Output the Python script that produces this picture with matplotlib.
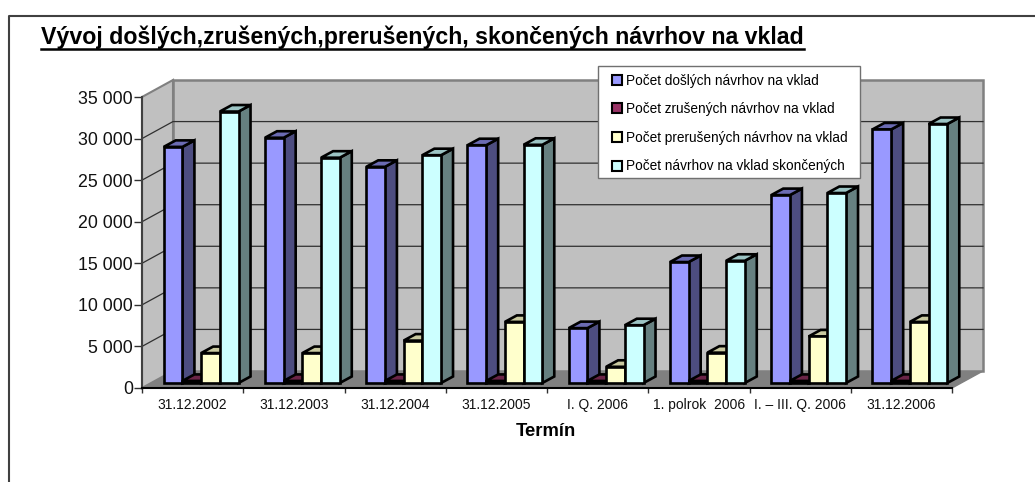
"""
Vyvoj navrhov na vklad - oblique 3D bar chart
"""

import matplotlib
matplotlib.use('Agg')
import matplotlib.pyplot as plt
from matplotlib.lines import Line2D
from matplotlib.patches import Patch, Polygon, Rectangle

plt.rcParams['font.family'] = ['Liberation Sans', 'DejaVu Sans']

categories = ['31.12.2002', '31.12.2003', '31.12.2004', '31.12.2005',
              'I. Q. 2006', '1. polrok  2006', 'I. – III. Q. 2006', '31.12.2006']
dosle = [28400, 29500, 26000, 28600, 6600, 14550, 22600, 30500]
zrusene = [250, 250, 250, 250, 250, 250, 250, 250]
prerusene = [3600, 3600, 5100, 7350, 1950, 3650, 5600, 7350]
skoncene = [32650, 27100, 27400, 28650, 6950, 14700, 22850, 31150]
series_names = ['Počet došlých návrhov na vklad', 'Počet zrušených návrhov na vklad',
                'Počet prerušených návrhov na vklad', 'Počet návrhov na vklad skončených']
yticks = [0, 5000, 10000, 15000, 20000, 25000, 30000, 35000]

W, H = 1035, 482
AX_L, AX_R, AX_T, AX_B = 142, 952, 97, 388  # axes box in pixels
px_x = 8 / (AX_R - AX_L)
px_y = 35000 / (AX_B - AX_T)

# (front, side, top) colours of every series
colours = [('#9999ff', '#4d4d80', '#6b6bb3'),
           ('#993366', '#4d1a33', '#6b2447'),
           ('#ffffcc', '#808066', '#c9c9a0'),
           ('#ccffff', '#668080', '#9cc4c4')]

fig = plt.figure(figsize=(W / 100, H / 100), dpi=100)
fig.patch.set_facecolor('white')
ax = fig.add_axes([AX_L / W, 1 - AX_B / H, (AX_R - AX_L) / W, (AX_B - AX_T) / H])
ax.set_xlim(0, 8)
ax.set_ylim(0, 35000)
ax.patch.set_visible(False)

# outer frame of the chart, right and bottom are cut off by the picture
fig.add_artist(Line2D([9 / W, 9 / W, 1], [0, 1 - 16 / H, 1 - 16 / H], color='#404040', lw=1.5))

back_x = 31 * px_x
back_y = 17 * px_y


def poly(points, face, edge='none', lw=0.0, z=1):
    ax.add_patch(Polygon(points, closed=True, facecolor=face, edgecolor=edge, linewidth=lw,
                         zorder=z, clip_on=False, joinstyle='miter'))


# walls and floor
poly([(0, 0), (back_x, back_y), (8 + back_x, back_y), (8, 0)], '#808080', '#808080', 1.0)
poly([(back_x, back_y), (back_x, 35000 + back_y), (8 + back_x, 35000 + back_y), (8 + back_x, back_y)],
     '#c0c0c0', '#808080', 1.8)
poly([(0, 0), (0, 35000), (back_x, 35000 + back_y), (back_x, back_y)], '#c0c0c0', '#808080', 1.5)

for v in yticks[1:-1]:
    ax.plot([0, back_x, 8 + back_x], [v, v + back_y, v + back_y], color='#303030', lw=0.9, zorder=2,
            clip_on=False)

# bars, drawn series by series so that the next one hides the side of the previous one
shift_x = 8.5 * px_x
shift_y = 5 * px_y
depth_x = 12 * px_x
depth_y = 6.5 * px_y
bar_w = 18.7 * px_x
gap = (1 - 4 * bar_w) / 2

for c in range(len(categories)):
    for s, values in enumerate([dosle, zrusene, prerusene, skoncene]):
        v = values[c]
        x0 = c + gap + s * bar_w + shift_x
        x1 = x0 + bar_w
        y0 = shift_y
        y1 = v + shift_y
        z = 3 + c * 4 + s
        front, side, top = colours[s]
        poly([(x1, y0), (x1 + depth_x, y0 + depth_y), (x1 + depth_x, y1 + depth_y), (x1, y1)],
             side, 'black', 1.9, z)
        poly([(x0, y1), (x0 + depth_x, y1 + depth_y), (x1 + depth_x, y1 + depth_y), (x1, y1)],
             top, 'black', 1.9, z)
        ax.add_patch(Rectangle((x0, y0), bar_w, v, facecolor=front, edgecolor='black', linewidth=1.9,
                               zorder=z, clip_on=False))

# axes
for name in ['top', 'right']:
    ax.spines[name].set_visible(False)
ax.spines['left'].set_color('#404040')
ax.spines['left'].set_linewidth(1.5)
ax.spines['bottom'].set_color('black')
ax.spines['bottom'].set_linewidth(1.5)
ax.spines['bottom'].set_zorder(60)
ax.spines['left'].set_zorder(60)

ax.set_yticks(yticks)
ax.set_yticklabels([f'{v:,}'.replace(',', ' ') for v in yticks], fontsize=12.8, color='#111111')
ax.tick_params(axis='y', length=5.5, width=1, pad=1, color='#303030')
ax.set_xticks(range(9))
ax.set_xticklabels([])
ax.tick_params(axis='x', length=3.6, width=1, color='#303030')
for i, name in enumerate(categories):
    ax.text(i + 0.5, -10 * px_y, name, ha='center', va='top', fontsize=10.0, color='#111111', clip_on=False)

fig.text(546 / W, 1 - 432 / H, 'Termín', ha='center', va='center', fontsize=13.3, fontweight='bold')

# title with its underline
title = fig.text(41 / W, 1 - 37 / H, 'Vývoj došlých,zrušených,prerušených, skončených návrhov na vklad',
                 ha='left', va='center', fontsize=16.7, fontweight='bold')
fig.canvas.draw()
box = title.get_window_extent()
fig.add_artist(Line2D([box.x0 / W, box.x1 / W], [1 - 48.5 / H, 1 - 48.5 / H], color='black', lw=1.8))

# legend frame is separate, its padding differs between x and y
fig.add_artist(Rectangle((597.5 / W, 1 - 178 / H), 262 / W, 112 / H, transform=fig.transFigure,
                         facecolor='white', edgecolor='#707070', linewidth=1.0, zorder=5))
handles = [Patch(facecolor=c[0], edgecolor='black', linewidth=1.5) for c in colours]
leg = fig.legend(handles, series_names, loc='upper left', bbox_to_anchor=(612 / W, 1 - 73.5 / H),
                 fontsize=9.85, frameon=False, handlelength=0.75, handleheight=0.75, handletextpad=0.25,
                 labelspacing=1.07, borderaxespad=0, borderpad=0)
leg.set_zorder(6)

fig.savefig('out.png', dpi=100)
